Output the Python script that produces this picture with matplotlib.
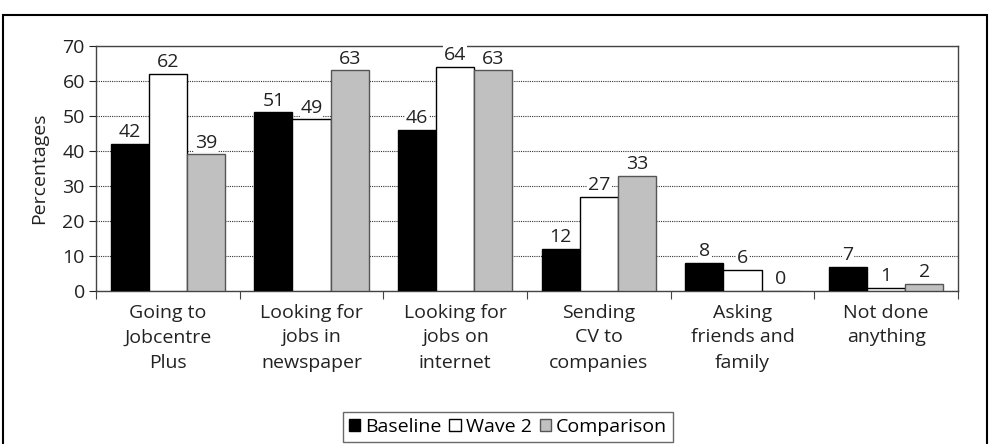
import matplotlib.pyplot as plt
import numpy as np
from matplotlib.patches import Rectangle

plt.rcParams['font.family'] = ['Open Sans', 'DejaVu Sans']

categories = [
    "Going to\nJobcentre\nPlus",
    "Looking for\njobs in\nnewspaper",
    "Looking for\njobs on\ninternet",
    "Sending\nCV to\ncompanies",
    "Asking\nfriends and\nfamily",
    "Not done\nanything",
]
baseline = [42, 51, 46, 12, 8, 7]
wave2 = [62, 49, 64, 27, 6, 1]
comparison = [39, 63, 63, 33, 0, 2]

series = [
    ("Baseline", baseline, "#000000", "#000000"),
    ("Wave 2", wave2, "#ffffff", "#000000"),
    ("Comparison", comparison, "#c0c0c0", "#555555"),
]

FS = 14
W, H = 995, 444
fig = plt.figure(figsize=(W / 100, H / 100), dpi=100)
ax = fig.add_axes([96 / W, 1 - 291 / H, (958 - 96) / W, (291 - 46) / H])

# outer frame
fig.patches.append(Rectangle((3 / W, -0.05), (987 - 3) / W, 1.05 - 15 / H,
                             transform=fig.transFigure, fill=False,
                             edgecolor="black", linewidth=1.5))

x = np.arange(len(categories))
bw = 0.265
for i, (name, vals, fc, ec) in enumerate(series):
    pos = x + (i - 1) * bw
    ax.bar(pos, vals, bw, color=fc, edgecolor=ec, linewidth=1.0,
           label=name, zorder=3)
    for p, v in zip(pos, vals):
        ax.text(p, v + 0.8, str(v), ha="center", va="bottom", fontsize=FS,
                color="#222222", zorder=4,
                bbox=dict(facecolor="white", edgecolor="none", pad=0.5))

ax.set_xlim(-0.5, len(categories) - 0.5)
ax.set_ylim(0, 70)
ax.set_yticks(range(0, 71, 10))
ax.tick_params(axis="y", labelsize=FS, direction="out", length=5, pad=3,
               colors="#222222")
ax.yaxis.grid(True, linestyle=(0, (1, 1)), color="#333333", linewidth=0.8, zorder=0)

ax.set_xticks(np.arange(len(categories) + 1) - 0.5)
ax.set_xticklabels([])
ax.set_xticks(x, minor=True)
ax.set_xticklabels(categories, minor=True, fontsize=FS, color="#222222",
                   linespacing=1.5)
ax.tick_params(axis="x", which="major", direction="out", length=6, color="#444444")
ax.tick_params(axis="x", which="minor", length=0, pad=9)

for s in ax.spines.values():
    s.set_color("#444444")
    s.set_linewidth(1.0)

ax.set_ylabel("Percentages", fontsize=FS, color="#222222", labelpad=10)

leg = fig.legend(loc="center", bbox_to_anchor=(508 / W, 1 - 427 / H), ncol=3,
                 fontsize=FS, frameon=True, fancybox=False, edgecolor="#444444",
                 handlelength=0.6, handleheight=0.6, handletextpad=0.25,
                 columnspacing=0.4, borderpad=0.3, borderaxespad=0)
leg.get_frame().set_linewidth(1.0)

fig.savefig("out.png", dpi=100)
